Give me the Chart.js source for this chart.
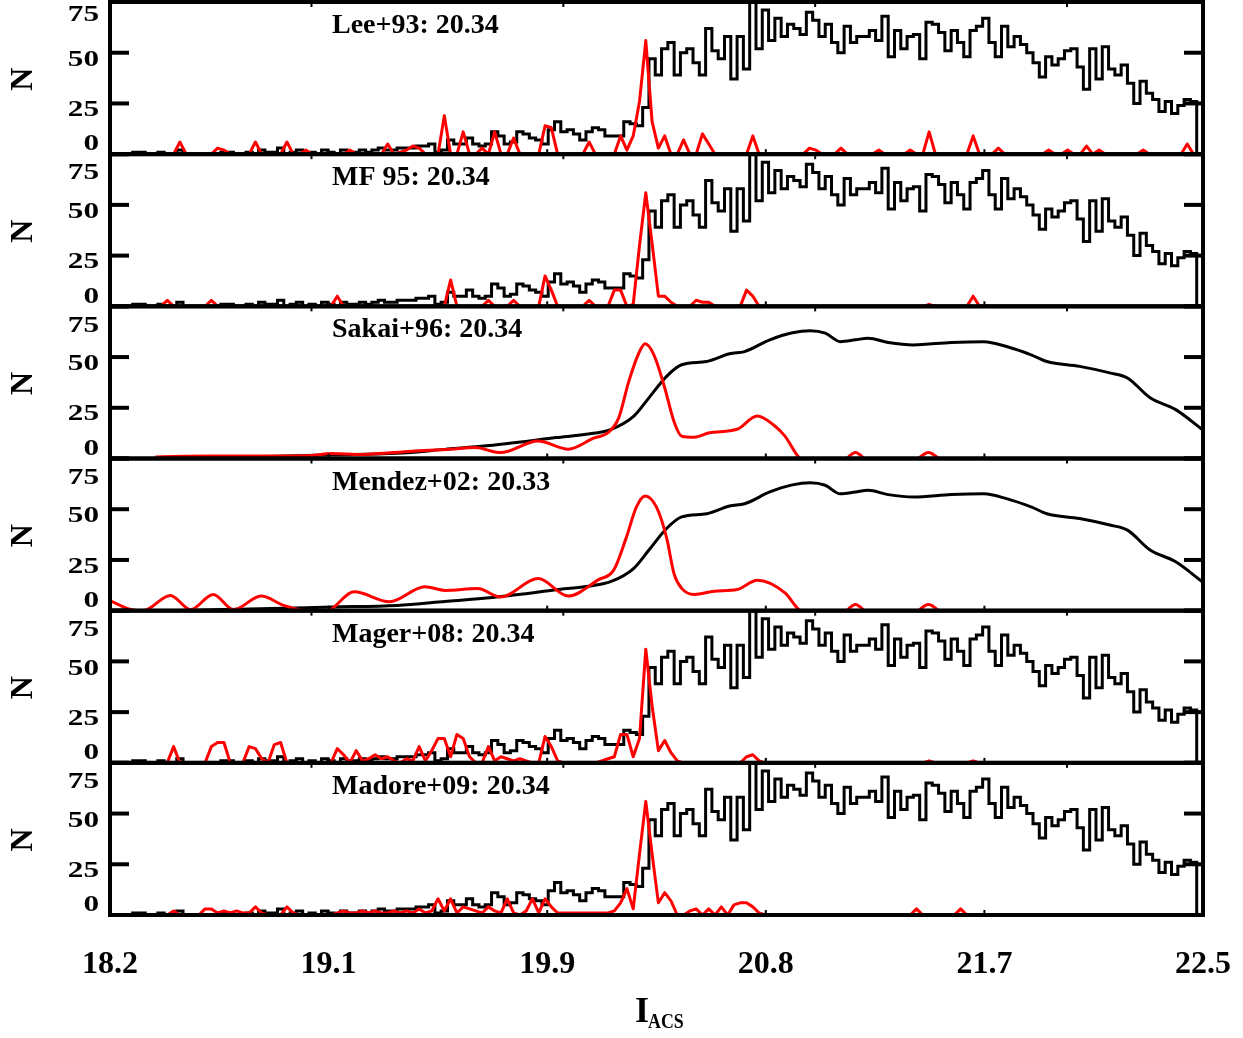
<!DOCTYPE html>
<html>
<head>
<meta charset="utf-8">
<script src="https://cdn.jsdelivr.net/npm/chart.js@4.4.1/dist/chart.umd.min.js"></script>
<style>
  html, body { margin: 0; padding: 0; background: #ffffff; }
  #wrap { width: 1243px; height: 1038px; }
</style>
</head>
<body>
<div id="wrap"><canvas id="lf" width="1243" height="1038"></canvas></div>
<script>
// ---- magnitude axis ----
const magMin = 18.2;
const magMax = 22.54;
const xTickValues = [18.2, 19.068, 19.936, 20.804, 21.672, 22.54];
const xTickLabels = ['18.2', '19.1', '19.9', '20.8', '21.7', '22.5'];
const xTopTicks = [19, 20, 21, 22];
const yTickValues = [0, 25, 50, 75];
const yTickLabels = ['0', '25', '50', '75'];

// ---- histogram binning (0.025 mag bins) ----
const binStart = 18.19;
const binWidth = 0.025;

// star counts per bin (same luminosity function in every binned panel)
const lfCounts = [
  0,0,0,0,1,1,0,0,1,0, 0,2,0,0,0,0,0,0,1,1,
  0,0,1,0,2,1,1,3,0,1, 2,0,1,0,2,1,0,2,1,1,
  2,1,2,3,2,2,
  3,3,3,4,4,5,1,2,7,5, 5,8,5,4,5,11,9,5,6,11,
  10,8,7,5,12,16,11,12,10,7, 11,13,12,9,9,9,16,15,14,23,
  47,39,52,55,39,50,52,45,39,62, 51,47,58,37,58,42,77,52,71,56,
  67,58,64,62,59,70,66,58,64,55, 50,63,55,58,58,61,56,68,48,61,
  52,58,59,47,65,64,60,51,61,55, 48,61,63,67,55,48,63,53,58,54,
  50,45,38,48,44,47,51,52,43,32, 52,37,53,42,39,44,35,25,36,30,
  27,21,26,20,24,27,26
];

// edge-detection responses at bin centres
const edgeLee = [
  0,0,0,0,0,0,0,0,0,0, 0,6,0,0,0,0,0,3,2,0,
  0,0,0,6,0,0,0,0,6,0, 0,2,0,0,0,0,0,0,2,0,
  0,0,0,0,5,0,1,2,4,3, 0,0,0,19,0,0,11,0,0,3,
  0,11,0,0,8,0,0,0,0,14, 13,0,0,0,0,0,6,0,0,0,
  0,9,2,9,26,56,16,3,9,0, 0,7,0,0,10,5,0,0,0,0,
  0,0,9,0,0,0,0,0,0,0, 0,3,2,0,0,0,3,0,0,0,
  0,0,2,0,0,0,0,2,0,0, 11,0,0,0,0,0,0,9,0,0,
  0,3,0,0,0,0,0,0,0,2, 0,0,2,0,0,4,0,2,0,0,
  0,0,0,0,2,0,0,0,0,0, 0,5,0
];
const edgeMF = [
  0,0,0,0,0,0,0,0,0,3, 0,0,0,0,0,0,3,0,0,0,
  0,0,0,0,0,0,0,0,0,0, 0,0,0,0,0,0,5,0,0,0,
  0,0,0,0,0,0,0,0,0,0, 0,0,0,0,13,0,0,0,0,0,
  3,0,0,0,3,0,0,0,0,15, 8,0,0,0,0,0,3,0,0,0,
  8,8,0,1,30,56,31,5,5,2, 0,0,0,3,2,2,0,0,0,0,
  0,8,5,0,0,0,0,0,0,0, 0,0,0,0,0,0,0,0,0,0,
  0,0,0,0,0,0,0,0,0,0, 1,0,0,0,0,0,0,5,0,0,
  0,0,0,0,0,0,0,0,0,0, 0,0,0,0,0,0,0,0,0,0,
  0,0,0,0,0,0,0,0,0,0, 0,0,0
];
const edgeMager = [
  0,0,0,0,0,0,0,0,0,0, 8,0,0,0,0,0,8,10,10,0,
  0,0,8,7,2,0,9,10,0,0, 0,0,0,0,0,0,7,4,0,6,
  1,2,4,2,3,1,0,2,1,8, 1,6,12,12,3,14,12,3,0,0,
  8,1,3,2,1,2,1,0,0,13, 8,1,0,0,0,0,0,0,1,2,
  3,14,14,3,12,56,28,6,11,5, 1,0,0,0,0,0,0,0,0,0,
  0,3,4,1,0,0,0,0,0,0, 0,0,0,0,0,0,0,0,0,0,
  0,0,0,0,0,0,0,0,0,0, 1,0,0,0,0,0,0,1,0,0,
  0,0,0,0,0,0,0,0,0,0, 0,0,0,0,0,0,0,0,0,0,
  0,0,0,0,0,0,0,0,0,0, 0,0,0
];
const edgeMadore = [
  0,0,0,0,0,0,0,0,0,0, 2,0,0,0,0,3,3,1,2,1,
  2,1,1,4,1,0,0,0,4,1, 0,0,0,0,0,0,1,2,1,1,
  2,1,2,1,1,2,1,2,1,3, 1,2,8,2,8,1,4,3,2,1,
  4,2,1,8,1,0,2,8,1,8, 4,1,1,1,1,1,1,1,1,1,
  2,6,13,3,30,56,30,6,11,7, 0,0,2,3,0,3,0,4,0,5,
  6,6,4,1,0,0,0,0,0,0, 0,0,0,0,0,0,0,0,0,0,
  0,0,0,0,0,0,0,0,3,0, 0,0,0,0,0,3,0,0,0,0,
  0,0,0,0,0,0,0,0,0,0, 0,0,0,0,0,0,0,0,0,0,
  0,0,0,0,0,0,0,0,0,0, 0,0,0
];

// smoothed luminosity function (Sakai+96 and Mendez+02 panels)
const smoothMag = [18.2, 18.4, 18.75, 19.08, 19.34, 19.53, 19.72, 19.84, 19.97, 20.09,
  20.19, 20.28, 20.34, 20.41, 20.47, 20.57, 20.66, 20.72, 20.82, 20.91,
  20.98, 21.04, 21.10, 21.16, 21.21, 21.29, 21.39, 21.54, 21.67, 21.76,
  21.86, 21.92, 22.05, 22.17, 22.24, 22.33, 22.43, 22.54];
const smoothN = [-1, 0, 0.8, 1.8, 2.6, 4.5, 6.5, 8.2, 10.3, 11.9,
  14.4, 20.9, 29.9, 40.5, 46.2, 47.8, 51.6, 52.7, 58.5, 62,
  63, 61.8, 57.6, 58.5, 59.3, 57.2, 56, 57.2, 57.6, 55.2,
  51, 47.8, 45.4, 42.2, 39.7, 29.9, 24.2, 14];

// smoothed edge responses
const sakaiEdgeMag = [18.38, 18.6, 18.8, 19.0, 19.08, 19.2, 19.40, 19.55, 19.65, 19.75,
  19.90, 20.02, 20.12, 20.18, 20.22, 20.26, 20.30, 20.325, 20.36, 20.40,
  20.44, 20.47, 20.52, 20.58, 20.69, 20.77, 20.84, 20.88, 20.94, 21.0,
  21.1, 21.16, 21.22, 21.38, 21.45, 21.52, 21.65];
const sakaiEdgeN = [0.8, 1.2, 1.2, 1.5, 2.5, 2, 3.6, 4.5, 5.4, 2.9,
  8.6, 4.6, 10, 13, 20, 38, 52, 56.5, 51, 36,
  18, 11, 10.5, 12.7, 14.4, 20.9, 16, 11, 0, -2,
  -2, 3, -2, -2, 3, -2, -1];
const mendezEdgeMag = [18.2, 18.27, 18.33, 18.44, 18.52, 18.61, 18.69, 18.80, 18.89, 18.97,
  19.05, 19.17, 19.31, 19.45, 19.53, 19.66, 19.75, 19.90, 20.02, 20.14,
  20.20, 20.25, 20.29, 20.325, 20.37, 20.41, 20.44, 20.47, 20.52, 20.60,
  20.69, 20.77, 20.88, 20.94, 21.0, 21.1, 21.16, 21.22, 21.38, 21.45,
  21.52, 21.65];
const mendezEdgeN = [5, 1, 0, 7.5, 0.5, 8, 0.5, 7.2, 2.6, 0,
  -1, 9.3, 4.4, 11.8, 10, 10.9, 6.7, 15.8, 7.2, 15.3,
  20, 36, 51, 56.5, 51, 36, 18, 11, 8, 9.6,
  10.4, 15, 8.8, 0, -2, -2, 3, -2, -2, 3,
  -2, -1];

// panel captions and tip magnitudes
const panelNames = ['Lee+93', 'MF 95', 'Sakai+96', 'Mendez+02', 'Mager+08', 'Madore+09'];
const panelTrgb = [20.34, 20.34, 20.34, 20.33, 20.34, 20.34];

// ---- build point lists ----
function histPoints(counts) {
  const pts = counts.map((n, i) => ({ x: binStart + i * binWidth, y: n }));
  pts.push({ x: binStart + counts.length * binWidth, y: 0 });
  return pts;
}
function centrePoints(vals) {
  return vals.map((v, i) => ({ x: binStart + (i + 0.5) * binWidth, y: v }));
}
function pairPoints(xs, ys) {
  return xs.map((x, i) => ({ x: x, y: ys[i] }));
}

const panelBlack = [
  histPoints(lfCounts), histPoints(lfCounts),
  pairPoints(smoothMag, smoothN), pairPoints(smoothMag, smoothN),
  histPoints(lfCounts), histPoints(lfCounts)
];
const panelRed = [
  centrePoints(edgeLee), centrePoints(edgeMF),
  pairPoints(sakaiEdgeMag, sakaiEdgeN), pairPoints(mendezEdgeMag, mendezEdgeN),
  centrePoints(edgeMager), centrePoints(edgeMadore)
];
const panelSmooth = [false, false, true, true, false, false];

const datasets = [];
panelNames.forEach((name, k) => {
  datasets.push({
    label: name + ' edge',
    data: panelRed[k],
    yAxisID: 'y' + k,
    borderColor: '#ff0000',
    borderWidth: 3,
    pointRadius: 0,
    fill: false,
    cubicInterpolationMode: panelSmooth[k] ? 'monotone' : 'default',
    tension: 0,
    borderJoinStyle: 'round',
    order: 0
  });
  datasets.push({
    label: name + ' LF',
    data: panelBlack[k],
    yAxisID: 'y' + k,
    borderColor: '#000000',
    borderWidth: 3,
    pointRadius: 0,
    fill: false,
    stepped: panelSmooth[k] ? false : 'before',
    cubicInterpolationMode: panelSmooth[k] ? 'monotone' : 'default',
    tension: 0,
    borderJoinStyle: 'miter',
    order: 1
  });
});

// stacked y axes: later keys are placed higher, so insert bottom panel first
const scales = {
  x: { type: 'linear', min: magMin, max: magMax, display: false }
};
for (let k = panelNames.length - 1; k >= 0; k--) {
  scales['y' + k] = {
    type: 'linear', position: 'left', stack: 'panels', stackWeight: 1,
    min: 0, max: 75,
    ticks: { display: false },
    grid: { display: false, drawTicks: false },
    border: { display: false }
  };
}

const SERIF = '"Liberation Serif", "Times New Roman", serif';

// frames, tick marks and all lettering of the stacked panels
const panelDecor = {
  id: 'panelDecor',
  beforeDraw(chart) {
    const c = chart.ctx;
    c.save();
    c.fillStyle = '#ffffff';
    c.fillRect(0, 0, chart.width, chart.height);
    c.restore();
  },
  afterDatasetsDraw(chart) {
    const c = chart.ctx;
    const xs = chart.scales.x;
    const L = xs.left, R = xs.right;
    const seg = (x1, y1, x2, y2) => { c.beginPath(); c.moveTo(x1, y1); c.lineTo(x2, y2); c.stroke(); };
    c.save();
    c.strokeStyle = '#000000';
    c.fillStyle = '#000000';
    panelNames.forEach((name, k) => {
      const ys = chart.scales['y' + k];
      const T = ys.top, B = ys.bottom;
      // inward major y ticks
      c.lineWidth = 4;
      yTickValues.forEach(v => {
        const y = ys.getPixelForValue(v);
        seg(L, y, L + 19, y);
        seg(R - 19, y, R, y);
      });
      // short x ticks
      c.lineWidth = 2;
      xTickValues.forEach(v => {
        const x = xs.getPixelForValue(v);
        seg(x, B, x, B - 5);
      });
      xTopTicks.forEach(v => {
        const x = xs.getPixelForValue(v);
        seg(x, T, x, T + 5);
      });
      // frame
      c.lineWidth = 4;
      c.strokeRect(L, T, R - L, B - T);

      // y tick labels (wide bold digits)
      const shift = { 0: -10, 25: 6.5, 50: 7, 75: (k === 0 ? 13 : 19) };
      yTickValues.forEach((v, j) => {
        const y = ys.getPixelForValue(v) + shift[v];
        c.save();
        c.translate(99, y);
        c.scale(1.3, 1);
        c.font = 'bold 24px ' + SERIF;
        c.textAlign = 'right';
        c.textBaseline = 'middle';
        c.fillText(yTickLabels[j], 0, 0);
        c.restore();
      });
      // axis letter N, turned on its side
      c.save();
      c.translate(23.5, (T + B) / 2 + 1);
      c.rotate(-Math.PI / 2);
      c.font = 'bold 32px ' + SERIF;
      c.textAlign = 'center';
      c.textBaseline = 'middle';
      c.fillText('N', 0, 0);
      c.restore();
      // panel caption
      c.font = 'bold 28px ' + SERIF;
      c.textAlign = 'left';
      c.textBaseline = 'alphabetic';
      c.fillText(name + ': ' + panelTrgb[k].toFixed(2), 332, T + 31);
    });

    // magnitude tick labels under the bottom panel
    c.font = 'bold 32px ' + SERIF;
    c.textAlign = 'center';
    c.textBaseline = 'alphabetic';
    xTickValues.forEach((v, j) => {
      c.fillText(xTickLabels[j], xs.getPixelForValue(v), 973);
    });
    // axis title I_ACS
    c.textAlign = 'left';
    c.font = 'bold 36px ' + SERIF;
    c.fillText('I', 635, 1022);
    c.save();
    c.translate(648, 1028);
    c.scale(0.85, 1);
    c.font = 'bold 21px ' + SERIF;
    c.fillText('ACS', 0, 0);
    c.restore();
    c.restore();
  }
};

new Chart(document.getElementById('lf'), {
  type: 'line',
  data: { datasets: datasets },
  options: {
    responsive: false,
    animation: false,
    devicePixelRatio: 1,
    layout: { padding: { left: 110, top: 2, right: 40, bottom: 123 } },
    scales: scales,
    plugins: {
      legend: { display: false },
      tooltip: { enabled: false },
      title: { display: false }
    }
  },
  plugins: [panelDecor]
});
</script>
</body>
</html>
